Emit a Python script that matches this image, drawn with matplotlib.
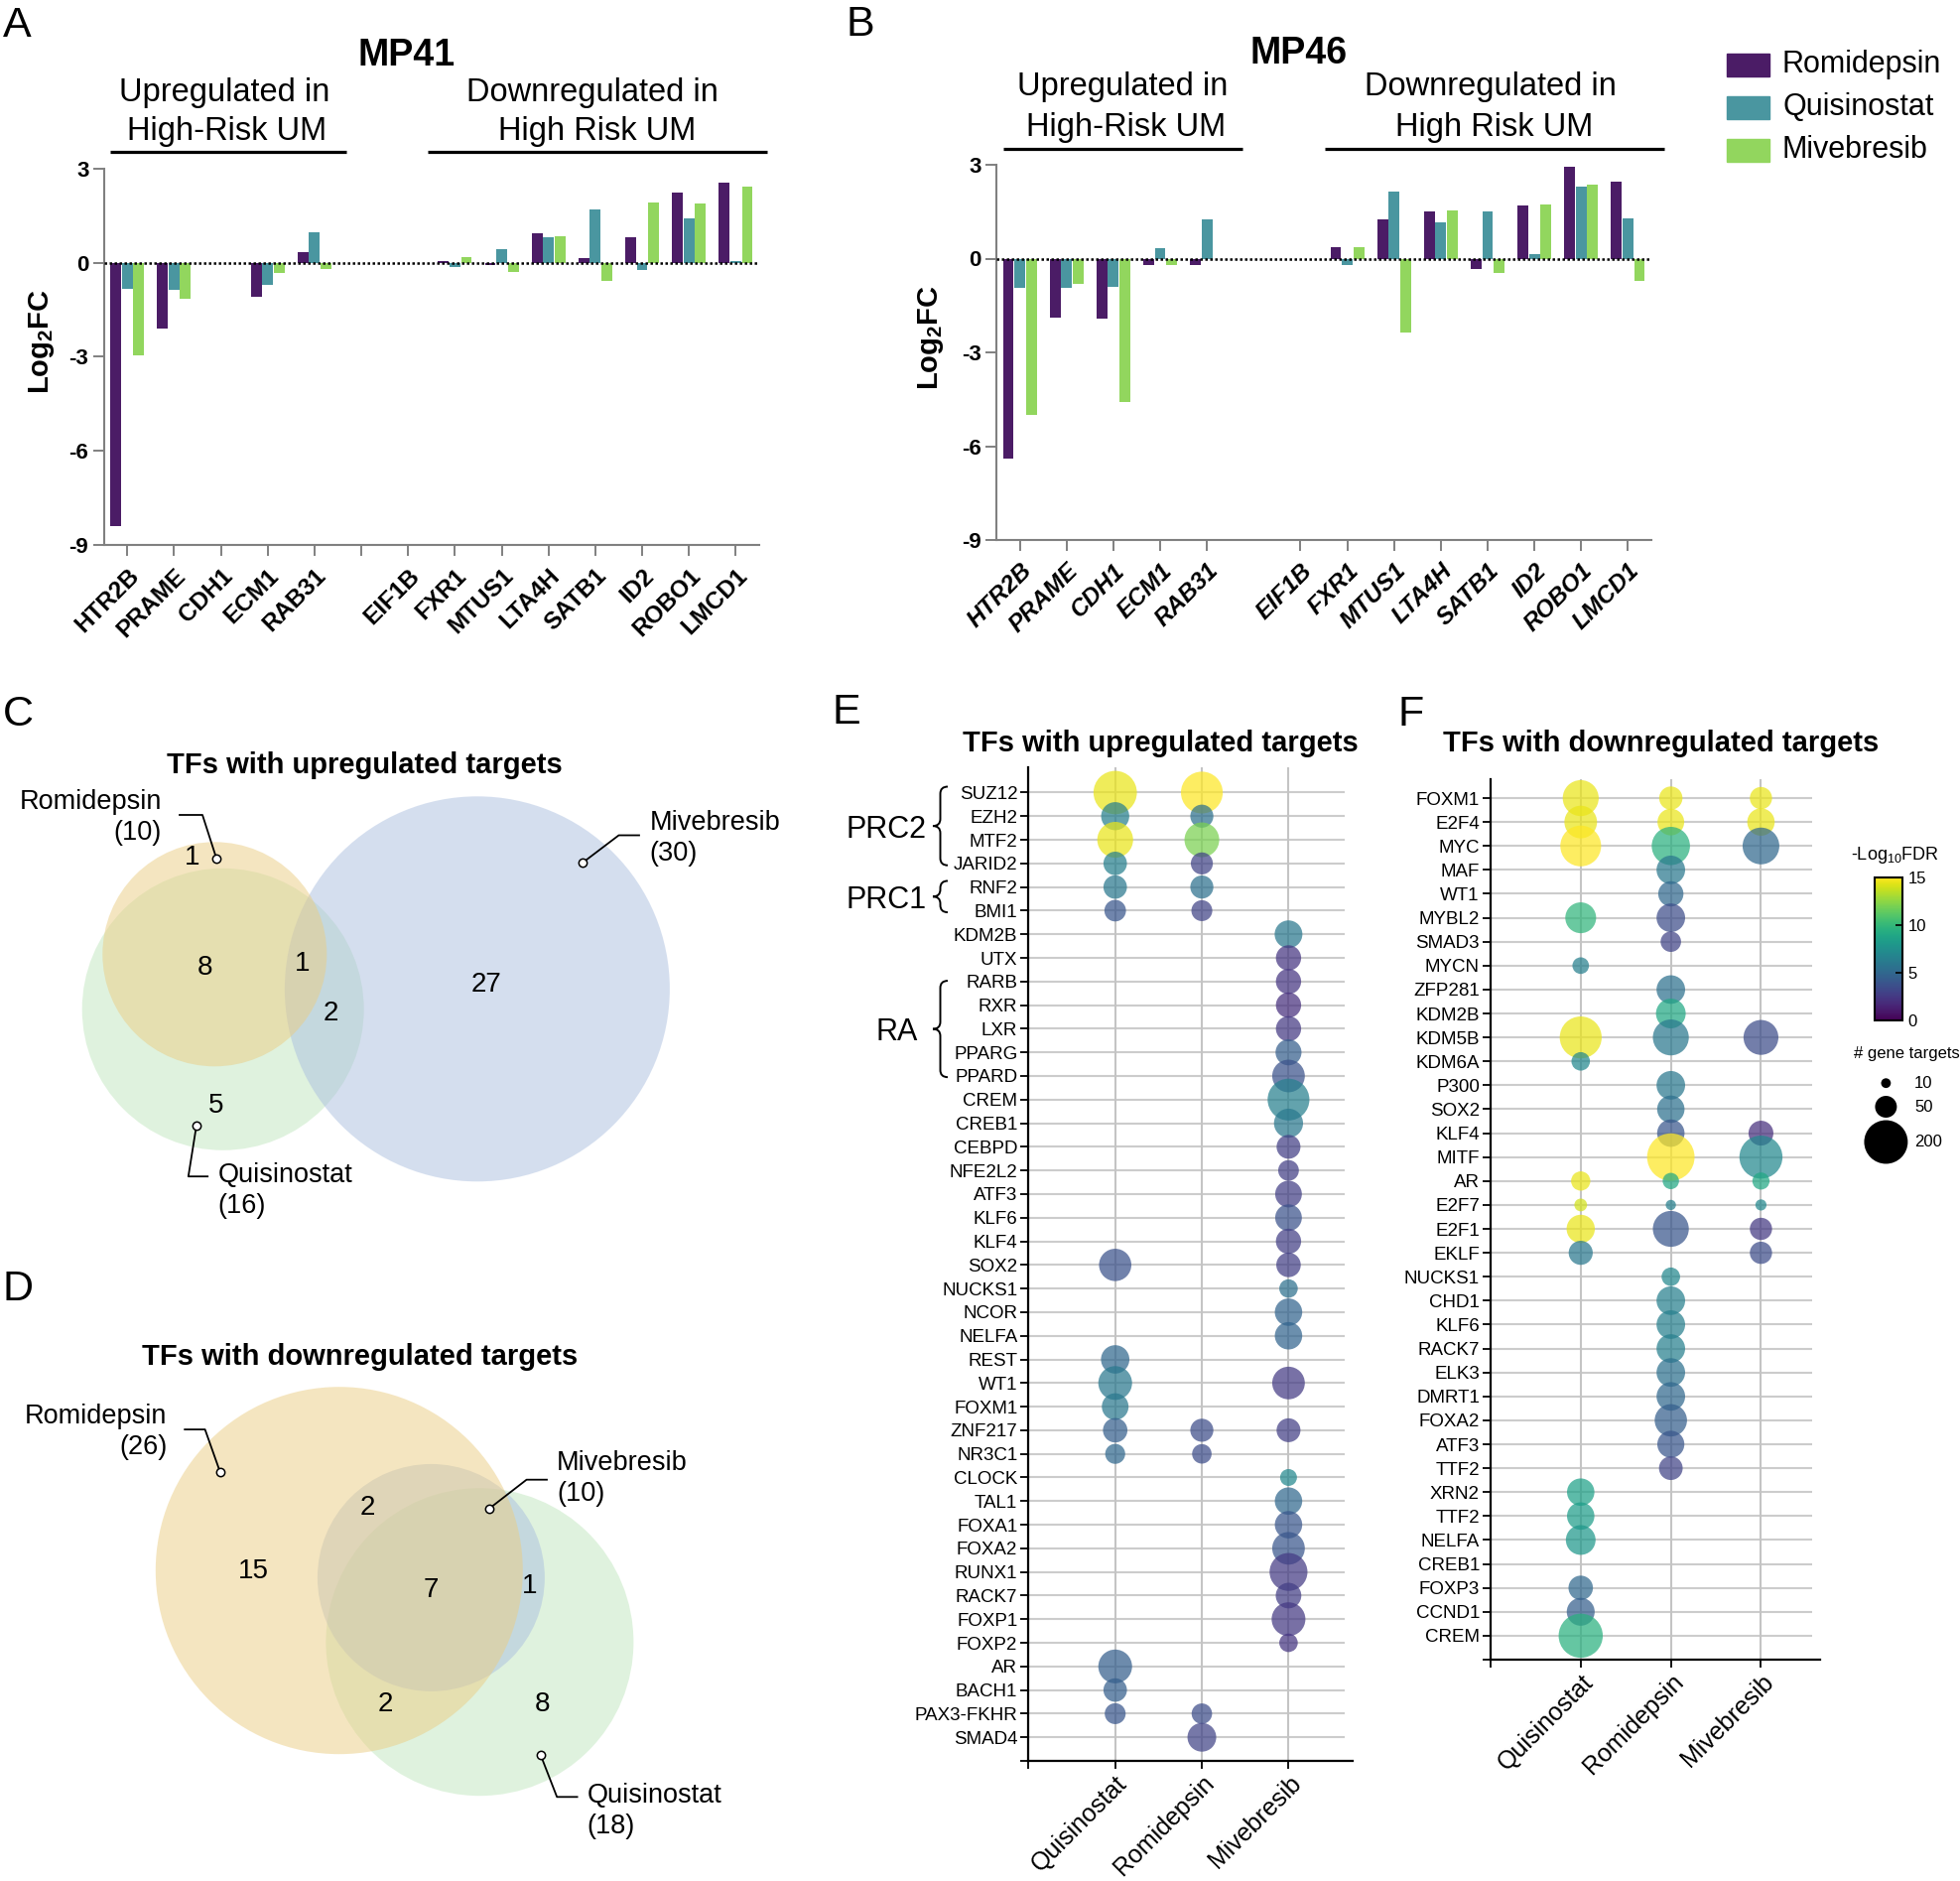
import numpy as np
import matplotlib
matplotlib.use('Agg')
import matplotlib.pyplot as plt
from matplotlib.patches import Circle, Rectangle, PathPatch
from matplotlib.path import Path
from matplotlib.transforms import blended_transform_factory
from matplotlib.cm import ScalarMappable
from matplotlib.colors import Normalize

plt.rcParams['font.family'] = ['Liberation Sans', 'DejaVu Sans']
plt.rcParams['mathtext.fontset'] = 'custom'
plt.rcParams['mathtext.rm'] = 'Liberation Sans'
plt.rcParams['mathtext.bf'] = 'Liberation Sans:bold'
plt.rcParams['mathtext.it'] = 'Liberation Sans:italic'

W, H = 1975, 1895

# ---------------- data: A / B (log2 fold change)
genes = ['HTR2B', 'PRAME', 'CDH1', 'ECM1', 'RAB31', '', 'EIF1B', 'FXR1', 'MTUS1',
         'LTA4H', 'SATB1', 'ID2', 'ROBO1', 'LMCD1']
drugs = ['Romidepsin', 'Quisinostat', 'Mivebresib']
drug_colors = ['#4b1c66', '#4a96a0', '#92d65e']

mp41_romi = [-8.4, -2.09, 0, -1.10, 0.35, 0, 0, 0.05, -0.07, 0.94, 0.16, 0.83, 2.24, 2.56]
mp41_quis = [-0.83, -0.87, 0, -0.71, 0.97, 0, 0, -0.12, 0.42, 0.83, 1.71, -0.24, 1.42, 0.05]
mp41_mive = [-2.94, -1.15, 0, -0.31, -0.21, 0, 0, 0.18, -0.28, 0.85, -0.59, 1.92, 1.90, 2.43]

mp46_romi = [-6.4, -1.88, -1.93, -0.22, -0.22, 0, 0, 0.37, 1.25, 1.50, -0.33, 1.69, 2.93, 2.46]
mp46_quis = [-0.95, -0.95, -0.92, 0.33, 1.26, 0, 0, -0.20, 2.13, 1.17, 1.50, 0.14, 2.29, 1.30]
mp46_mive = [-4.99, -0.81, -4.59, -0.22, -0.03, 0, 0, 0.35, -2.35, 1.55, -0.45, 1.72, 2.38, -0.72]

# ---------------- data: C / D (venn counts)
up_totals = [10, 16, 30]            # Romidepsin, Quisinostat, Mivebresib
up_counts = [1, 8, 1, 2, 27, 5]     # R only, R&Q, R&Q&M, Q&M, M only, Q only
down_totals = [26, 10, 18]          # Romidepsin, Mivebresib, Quisinostat
down_counts = [2, 15, 7, 1, 2, 8]   # R&M, R only, all, M&Q, R&Q, Q only

# ---------------- data: E (TFs with upregulated targets)
e_tfs = ['SUZ12', 'EZH2', 'MTF2', 'JARID2', 'RNF2', 'BMI1', 'KDM2B', 'UTX', 'RARB', 'RXR',
         'LXR', 'PPARG', 'PPARD', 'CREM', 'CREB1', 'CEBPD', 'NFE2L2', 'ATF3', 'KLF6', 'KLF4',
         'SOX2', 'NUCKS1', 'NCOR', 'NELFA', 'REST', 'WT1', 'FOXM1', 'ZNF217', 'NR3C1', 'CLOCK',
         'TAL1', 'FOXA1', 'FOXA2', 'RUNX1', 'RACK7', 'FOXP1', 'FOXP2', 'AR', 'BACH1',
         'PAX3-FKHR', 'SMAD4']
e_quis_n = [198, 83, 135, 58, 58, 49, 0, 0, 0, 0, 0, 0, 0, 0, 0, 0, 0, 0, 0, 0,
            110, 0, 0, 0, 85, 120, 75, 63, 42, 0, 0, 0, 0, 0, 0, 0, 0, 120, 58, 46, 0]
e_quis_fdr = [14.5, 6.5, 14.5, 6.5, 6, 4, 0, 0, 0, 0, 0, 0, 0, 0, 0, 0, 0, 0, 0, 0,
              3.8, 0, 0, 0, 5, 6, 6, 4.5, 5, 0, 0, 0, 0, 0, 0, 0, 0, 4.5, 4.5, 4, 0]
e_romi_n = [184, 56, 127, 51, 56, 46, 0, 0, 0, 0, 0, 0, 0, 0, 0, 0, 0, 0, 0, 0,
            0, 0, 0, 0, 0, 0, 0, 56, 40, 0, 0, 0, 0, 0, 0, 0, 0, 0, 0, 44, 87]
e_romi_fdr = [15, 5.5, 12, 3, 5.5, 3, 0, 0, 0, 0, 0, 0, 0, 0, 0, 0, 0, 0, 0, 0,
              0, 0, 0, 0, 0, 0, 0, 3.5, 3.5, 0, 0, 0, 0, 0, 0, 0, 0, 0, 0, 3.5, 3]
e_mive_n = [0, 0, 0, 0, 0, 0, 81, 67, 67, 67, 67, 71, 112, 184, 89, 60, 45, 75, 75, 67,
            63, 36, 79, 79, 0, 112, 0, 60, 0, 30, 79, 79, 112, 151, 69, 120, 36, 0, 0, 0, 0]
e_mive_fdr = [0, 0, 0, 0, 0, 0, 6, 2.3, 2.3, 2, 2.5, 4.5, 3.8, 6.5, 6, 2.8, 2.8, 2.8, 3.8, 2.8,
              2.8, 5.5, 4.8, 4.8, 0, 2.6, 0, 2.8, 0, 7, 5, 4, 4, 2.6, 2.7, 2.5, 2.3, 0, 0, 0, 0]

# ---------------- data: F (TFs with downregulated targets)
f_tfs = ['FOXM1', 'E2F4', 'MYC', 'MAF', 'WT1', 'MYBL2', 'SMAD3', 'MYCN', 'ZFP281', 'KDM2B',
         'KDM5B', 'KDM6A', 'P300', 'SOX2', 'KLF4', 'MITF', 'AR', 'E2F7', 'E2F1', 'EKLF',
         'NUCKS1', 'CHD1', 'KLF6', 'RACK7', 'ELK3', 'DMRT1', 'FOXA2', 'ATF3', 'TTF2', 'XRN2',
         'TTF2', 'NELFA', 'CREB1', 'FOXP3', 'CCND1', 'CREM']
f_quis_n = [136, 112, 175, 0, 0, 100, 0, 29, 0, 0, 185, 36, 0, 0, 0, 0, 39, 17, 84, 61,
            0, 0, 0, 0, 0, 0, 0, 0, 0, 79, 79, 93, 0, 63, 82, 205]
f_quis_fdr = [14.5, 14.5, 15, 0, 0, 9.8, 0, 6.5, 0, 0, 14.5, 7, 0, 0, 0, 0, 14.5, 14, 14.5, 6,
              0, 0, 0, 0, 0, 0, 0, 0, 0, 8.5, 8.3, 8, 0, 5, 4.5, 9.5]
f_romi_n = [57, 75, 154, 86, 67, 86, 44, 0, 86, 93, 136, 0, 86, 79, 79, 237, 28, 11, 136, 0,
            36, 86, 86, 86, 86, 86, 110, 77, 59, 0, 0, 0, 0, 0, 0, 0]
f_romi_fdr = [14.5, 14.5, 9.5, 6, 5, 3.5, 3, 0, 5.5, 9, 6, 0, 6, 5.5, 4, 15, 9, 6.5, 4, 0,
              7, 6.5, 6.5, 6.5, 5.5, 5, 4.5, 4, 3, 0, 0, 0, 0, 0, 0, 0]
f_mive_n = [52, 79, 142, 0, 0, 0, 0, 0, 0, 0, 128, 0, 0, 0, 65, 195, 31, 13, 52, 52,
            0, 0, 0, 0, 0, 0, 0, 0, 0, 0, 0, 0, 0, 0, 0, 0]
f_mive_fdr = [14.5, 14.5, 5, 0, 0, 0, 0, 0, 0, 0, 3.5, 0, 0, 0, 2, 7, 9, 7, 2.5, 3.5,
              0, 0, 0, 0, 0, 0, 0, 0, 0, 0, 0, 0, 0, 0, 0, 0]
bubble_cols = ['Quisinostat', 'Romidepsin', 'Mivebresib']
size_legend = [10, 50, 200]

venn_colors = {'Romidepsin': '#ebcd83', 'Quisinostat': '#c1e7bf', 'Mivebresib': '#abbfdf'}

fig = plt.figure(figsize=(W / 100, H / 100), dpi=100)


def px_axes(l, t, r, b, **kw):
    return fig.add_axes([l / W, 1 - b / H, (r - l) / W, (b - t) / H], **kw)


# overlay axes in pixel coordinates for titles, venns, legends
ov = fig.add_axes([0, 0, 1, 1], zorder=-1)
ov.set_xlim(0, W)
ov.set_ylim(H, 0)
ov.axis('off')


def bar_panel(ax, vals, italic, gap_tick):
    x = np.arange(len(genes))
    for k, v in enumerate(vals):
        ax.bar(x + (k - 1) * 0.245, v, width=0.23, color=drug_colors[k], label=drugs[k])
    ax.axhline(0, color='k', lw=1.8, ls=(0, (1, 1)), zorder=3)
    ax.set_xlim(-0.5, 13.5)
    ax.set_ylim(-9, 3)
    ax.set_yticks([3, 0, -3, -6, -9])
    ax.set_yticklabels(['3', '0', '-3', '-6', '-9'], fontsize=16, fontweight='bold')
    if gap_tick:
        ticks = list(x)
    else:
        ticks = [i for i in x if genes[i]]
    ax.set_xticks(ticks)
    ax.set_xticklabels([genes[i] for i in ticks], rotation=45, ha='right',
                       rotation_mode='anchor', fontsize=17.5, fontweight='bold',
                       style='italic' if italic else 'normal')
    for s in ['top', 'right']:
        ax.spines[s].set_visible(False)
    for s in ['left', 'bottom']:
        ax.spines[s].set_color('#808080')
        ax.spines[s].set_linewidth(1.5)
    ax.tick_params(axis='both', direction='out', length=8, width=1.4, color='#808080')
    ax.tick_params(axis='x', pad=6)
    ax.tick_params(axis='y', pad=3)
    ax.set_ylabel(r'Log$_\mathregular{2}$FC', fontsize=21, fontweight='bold')
    ax.set_facecolor('none')


axA = px_axes(104.6, 170, 765, 549)
bar_panel(axA, [mp41_romi, mp41_quis, mp41_mive], False, True)
axA.yaxis.set_label_coords(-0.072, 0.54)

axB = px_axes(1004, 166, 1664, 544)
bar_panel(axB, [mp46_romi, mp46_quis, mp46_mive], True, False)
axB.yaxis.set_label_coords(-0.077, 0.54)

# titles and group headers
ov.text(410, 65.5, 'MP41', fontsize=27, fontweight='bold', ha='center', va='baseline')
ov.text(1309, 64.2, 'MP46', fontsize=27, fontweight='bold', ha='center', va='baseline')
headers = [(226, 101.6, 'Upregulated in'), (229, 141, 'High-Risk UM'),
           (597, 101.6, 'Downregulated in'), (602, 141, 'High Risk UM'),
           (1131.6, 96.2, 'Upregulated in'), (1135, 136.8, 'High-Risk UM'),
           (1502, 96.2, 'Downregulated in'), (1506, 136.8, 'High Risk UM')]
for hx, hy, t in headers:
    ov.text(hx, hy, t, fontsize=23.5, ha='center', va='baseline')
for x0, x1, yy in [(111, 349, 153.4), (431, 773, 153.4), (1011, 1252, 150), (1335, 1677, 150)]:
    ov.plot([x0, x1], [yy, yy], color='k', lw=2.3, solid_capstyle='butt')

# legend for A/B
for k, (yc, name) in enumerate(zip([65.5, 108, 151], drugs)):
    ov.add_patch(Rectangle((1740, yc - 11.5), 43, 23, color=drug_colors[k]))
    ov.text(1796, yc, name, fontsize=22, va='center', ha='left')

# panel letters
for lx, ly, t in [(3, 37, 'A'), (853, 36.5, 'B'), (3, 731, 'C'), (3, 1310, 'D'),
                  (839, 729, 'E'), (1408, 731, 'F')]:
    ov.text(lx, ly, t, fontsize=31, va='baseline', ha='left')

# ---------------- venn C
ov.text(367, 778.7, 'TFs with upregulated targets', fontsize=21, fontweight='bold',
        ha='center', va='baseline')
ov.add_patch(Circle((224.7, 1016.8), 142, color=venn_colors['Quisinostat'], alpha=0.5, lw=0))
ov.add_patch(Circle((480.9, 996.3), 194, color=venn_colors['Mivebresib'], alpha=0.5, lw=0))
ov.add_patch(Circle((216.3, 961.3), 113, color=venn_colors['Romidepsin'], alpha=0.5, lw=0))
up_pos = [(194, 864), (207, 975), (305, 971), (333, 1021), (490, 992), (218, 1114)]
for (px, py), n in zip(up_pos, up_counts):
    ov.text(px, py, str(n), fontsize=20, ha='center', va='center')


def leader(pts, lab_xy, name, total, ha):
    xs, ys = zip(*pts)
    ov.plot(xs, ys, color='k', lw=1.3)
    ov.plot(xs[-1], ys[-1], 'o', ms=6, mfc='white', mec='k', mew=1.1)
    lx, ly = lab_xy
    ov.text(lx, ly, name, fontsize=19.5, ha=ha, va='center')
    ov.text(lx, ly + 31, '(%d)' % total, fontsize=19.5, ha=ha, va='center')


leader([(181, 821), (204, 821), (218, 864.5)], (163, 808), 'Romidepsin', up_totals[0], 'right')
leader([(644, 841.5), (623.5, 841.5), (586.7, 869.4)], (654.6, 829.3), 'Mivebresib',
       up_totals[2], 'left')
leader([(209.2, 1185.2), (189.8, 1185.2), (198, 1133.5)], (219.4, 1184.4), 'Quisinostat',
       up_totals[1], 'left')

# ---------------- venn D
ov.text(363, 1374.7, 'TFs with downregulated targets', fontsize=21, fontweight='bold',
        ha='center', va='baseline')
ov.add_patch(Circle((483.4, 1654.2), 155, color=venn_colors['Quisinostat'], alpha=0.5, lw=0))
ov.add_patch(Circle((434.4, 1589.4), 114.5, color=venn_colors['Mivebresib'], alpha=0.5, lw=0))
ov.add_patch(Circle((341.8, 1582.2), 185, color=venn_colors['Romidepsin'], alpha=0.5, lw=0))
down_pos = [(370, 1519.5), (255, 1583), (434, 1601.7), (534, 1597.6), (388, 1717), (546, 1717)]
for (px, py), n in zip(down_pos, down_counts):
    ov.text(px, py, str(n), fontsize=20, ha='center', va='center')
leader([(186.2, 1440.1), (206.6, 1440.1), (221.9, 1483.3)], (168.4, 1426.9), 'Romidepsin',
       down_totals[0], 'right')
leader([(551, 1490.7), (530.6, 1490.7), (493.4, 1519.5)], (561.2, 1474.2), 'Mivebresib',
       down_totals[1], 'left')
leader([(581.6, 1810.3), (561.2, 1810.3), (544.9, 1768.4)], (591.8, 1808.7), 'Quisinostat',
       down_totals[2], 'left')


# ---------------- bubble panels
def bubble_panel(ax, tfs, n_lists, f_lists, xmax, gx, ytop):
    rows = np.arange(len(tfs))
    ax.set_xlim(0, xmax)
    ax.set_ylim(len(tfs), ytop)
    ax.hlines(rows, 0, gx, color='#cccccc', lw=1.5, zorder=1)
    for c in [1, 2, 3]:
        ax.axvline(c, color='#c4c4c4', lw=1.5, zorder=1)
    for j, (nn, ff) in enumerate(zip(n_lists, f_lists)):
        idx = [i for i in rows if nn[i] > 0]
        ax.scatter([j + 1] * len(idx), idx, s=[5 * nn[i] for i in idx],
                   c=[ff[i] for i in idx], cmap='viridis', vmin=0, vmax=15,
                   alpha=0.72, edgecolors='none', zorder=3)
    ax.set_yticks(list(rows) + [len(tfs)])
    ax.set_yticklabels(tfs + [''], fontsize=13.5)
    ax.set_xticks([0, 1, 2, 3])
    ax.set_xticklabels([''] + bubble_cols, rotation=45, ha='right', rotation_mode='anchor',
                       fontsize=18)
    for s in ['top', 'right']:
        ax.spines[s].set_visible(False)
    for s in ['left', 'bottom']:
        ax.spines[s].set_linewidth(1.6)
    ax.tick_params(axis='both', direction='out', length=6, width=1.3)
    ax.tick_params(axis='y', pad=2)
    ax.tick_params(axis='x', pad=1.5)
    ax.set_facecolor('none')


axE = px_axes(1036.4, 773, 1363, 1774)
bubble_panel(axE, e_tfs, [e_quis_n, e_romi_n, e_mive_n], [e_quis_fdr, e_romi_fdr, e_mive_fdr],
             3.74, 3.65, -1.07)
ov.text(1169, 757, 'TFs with upregulated targets', fontsize=21, fontweight='bold',
        ha='center', va='baseline')

axF = px_axes(1502, 785, 1834, 1672)
bubble_panel(axF, f_tfs, [f_quis_n, f_romi_n, f_mive_n], [f_quis_fdr, f_romi_fdr, f_mive_fdr],
             3.656, 3.566, -0.79)
ov.text(1673.6, 757, 'TFs with downregulated targets', fontsize=21, fontweight='bold',
        ha='center', va='baseline')

# braces for E groups
btr = blended_transform_factory(ov.transData, axE.transData)


def brace(y0, y1, x_tip=940, x_arm=955, d=0.3):
    xm = (x_tip + x_arm) / 2
    ym = (y0 + y1) / 2
    verts = [(x_arm, y0), (xm, y0), (xm, y0 + d), (xm, ym - d), (xm, ym), (x_tip, ym),
             (xm, ym), (xm, ym + d), (xm, y1 - d), (xm, y1), (x_arm, y1)]
    codes = [Path.MOVETO, Path.CURVE3, Path.CURVE3, Path.LINETO, Path.CURVE3, Path.CURVE3,
             Path.CURVE3, Path.CURVE3, Path.LINETO, Path.CURVE3, Path.CURVE3]
    fig.add_artist(PathPatch(Path(verts, codes), transform=btr, fc='none', ec='k', lw=1.4))


brace(-0.25, 3.08)
brace(3.74, 5.07)
brace(7.97, 12.05)
for t, yr, xr in [('PRC2', 1.45, 933.6), ('PRC1', 4.4, 933.6), ('RA', 10.0, 924.6)]:
    fig.text(xr, yr, t, fontsize=22, ha='right', va='center_baseline', transform=btr)

# colorbar
cax = px_axes(1889, 883.6, 1917, 1028)
cb = fig.colorbar(ScalarMappable(Normalize(0, 15), 'viridis'), cax=cax, ticks=[0, 5, 10, 15])
cb.outline.set_linewidth(1.5)
cax.tick_params(direction='in', length=5, width=1.2, labelsize=12, pad=4)
ov.text(1909.8, 866, r'-Log$_{10}$FDR', fontsize=13, ha='center', va='baseline')

# size legend
ov.text(1867.6, 1061.6, '# gene targets', fontsize=12, ha='left', va='center')
for n, yy in zip(size_legend, [1091.2, 1115, 1150.5]):
    ov.scatter([1900.4], [yy], s=5 * n, color='k', edgecolors='none')
    ov.text(1929, yy, str(n), fontsize=12, ha='left', va='center')

fig.savefig('out.png', dpi=100)
